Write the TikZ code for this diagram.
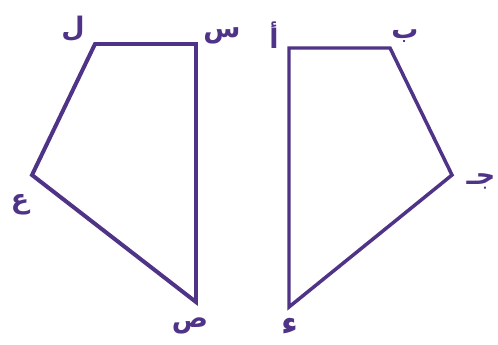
\documentclass[tikz,border=0pt]{standalone}
\usepackage{fontspec}
\newfontfamily\arabicfont[Script=Arabic]{DejaVu Sans}
\TeXXeTstate=1
\usetikzlibrary{positioning}
\definecolor{Plum}{HTML}{4E3387}
\tikzset{
  edge/.style={draw=Plum,line width=4pt,line join=miter},
  thinedge/.style={edge,line width=3.5pt},
  vlab/.style={text=Plum,font=\arabicfont\bfseries\fontsize{27}{27}\selectfont,inner sep=0pt}
}
\begin{document}
\begin{tikzpicture}[x=1bp,y=-1bp]
  \useasboundingbox (0,0) rectangle (498,344);
  % left figure
  \coordinate (L) at (95,44); \coordinate (S) at (196,44);
  \coordinate (Sd) at (196,302); \coordinate (Ai) at (32,175);
  \draw[edge] (L)--(S)--(Sd)--(Ai)--cycle;
  \node[vlab] (lL) at (73,29) {\beginR ل\endR};
  \node[vlab] (lS) at (222,36) {\beginR س\endR};
  \node[vlab] (lSd) at (190,326) {\beginR ص\endR};
  \node[vlab] (lAi) at (20,205) {\beginR ع\endR};
  % right figure
  \coordinate (A) at (289,48); \coordinate (B) at (390,48);
  \coordinate (J) at (452,175); \coordinate (D) at (289,307);
  \draw[thinedge] (A)--(B)--(J)--(D)--cycle;
  \node[vlab] (lA) at (274,35) {\beginR أ\endR};
  \node[vlab] (lB) at (405,36) {\beginR ب\endR};
  \node[vlab] (lJ) at (481,181) {\beginR جـ\endR};
  \node[vlab,font=\arabicfont\bfseries\fontsize{33}{33}\selectfont] (lD) at (290,326) {\beginR ء\endR};
\end{tikzpicture}
\end{document}
